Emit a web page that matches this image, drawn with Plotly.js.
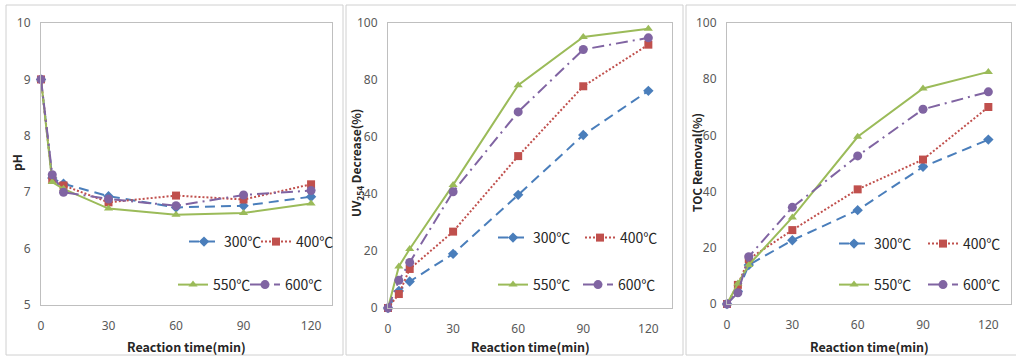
<!DOCTYPE html>
<html>
<head>
<meta charset="utf-8">
<script src="https://cdn.plot.ly/plotly-3.0.1.min.js"></script>
<style>html,body{margin:0;padding:0;background:#fff;}#chart{width:1016px;height:357px;}</style>
</head>
<body>
<div id="chart"></div>
<script>
// ---- data ----
const reactionTime = [0, 5, 10, 30, 60, 90, 120];
const seriesNames = ['300℃', '400℃', '550℃', '600℃'];

const pH_300 = [9.0, 7.25, 7.15, 6.93, 6.73, 6.76, 6.92];
const pH_400 = [9.0, 7.22, 7.12, 6.82, 6.94, 6.87, 7.14];
const pH_550 = [9.0, 7.18, 7.06, 6.71, 6.60, 6.63, 6.80];
const pH_600 = [9.0, 7.31, 7.00, 6.88, 6.76, 6.95, 7.03];

const uv_300 = [0, 6.0, 9.3, 19.0, 39.7, 60.7, 76.2];
const uv_400 = [0, 4.9, 13.7, 26.8, 53.3, 77.8, 92.4];
const uv_550 = [0, 14.6, 20.7, 43.2, 78.2, 95.1, 98.0];
const uv_600 = [0, 9.7, 16.0, 40.8, 68.8, 90.7, 94.8];

const toc_300 = [0, 4.5, 13.9, 22.7, 33.4, 48.8, 58.5];
const toc_400 = [0, 6.8, 16.0, 26.3, 40.8, 51.4, 70.1];
const toc_550 = [0, 7.3, 13.9, 30.8, 59.5, 76.7, 82.6];
const toc_600 = [0, 4.0, 16.8, 34.4, 52.7, 69.3, 75.5];

const yTitles = ['pH', 'UV<sub>254</sub> Decrease(%)', 'TOC Removal(%)'];
const xTitle = 'Reaction time(min)';

// ---- styling ----
const W = 1016, H = 357;
const styles = [
  {color: '#4a7ebb', dash: '10px,6px', symbol: 'diamond', size: 8},
  {color: '#c0504d', dash: '2px,2px', symbol: 'square', size: 8},
  {color: '#9bbb59', dash: 'solid', symbol: 'triangle-up', size: 8},
  {color: '#8064a2', dash: '12px,5px,2px,5px', symbol: 'circle', size: 9}
];
const panelData = [
  [pH_300, pH_400, pH_550, pH_600],
  [uv_300, uv_400, uv_550, uv_600],
  [toc_300, toc_400, toc_550, toc_600]
];
// plot area in pixels
const boxes = [
  {l: 41, r: 332, t: 23, b: 305, xmax: 129.3, yr: [5, 10], dtick: 1},
  {l: 388, r: 672, t: 23, b: 308, xmax: 130.9, yr: [0, 100], dtick: 20},
  {l: 727, r: 1011, t: 23, b: 304, xmax: 130.4, yr: [0, 100], dtick: 20}
];
// legend entry positions (px): [x, y] for each series per panel
const legendPos = [
  [[184, 242], [256, 242], [173, 285], [245, 285]],
  [[493, 238], [580, 238], [493, 285], [578, 285]],
  [[834, 244], [923, 244], [834, 285], [923, 285]]
];

const traces = [];
const layout = {
  width: W, height: H,
  margin: {l: 0, r: 0, t: 0, b: 0},
  showlegend: true,
  paper_bgcolor: '#fff', plot_bgcolor: '#fff',
  font: {family: 'Noto Sans', color: '#595959'},
  annotations: [], shapes: []
};
const px = v => v / W;
const py = v => 1 - v / H;
const frames = [[6, 343], [346, 683], [686, 1020]];

boxes.forEach((bx, p) => {
  const xa = 'xaxis' + (p ? p + 1 : ''), ya = 'yaxis' + (p ? p + 1 : '');
  const xr = 'x' + (p ? p + 1 : ''), yr = 'y' + (p ? p + 1 : '');
  layout[xa] = {
    domain: [px(bx.l), px(bx.r)], anchor: yr, range: [0, bx.xmax],
    tickvals: [0, 30, 60, 90, 120], showgrid: false, zeroline: false,
    showline: true, mirror: true, linecolor: '#bfbfbf', linewidth: 1,
    ticks: '', ticklabelstandoff: 10,
    tickfont: {size: 12, color: '#595959', family: 'Noto Sans'}
  };
  layout[ya] = {
    domain: [py(bx.b), py(bx.t)], anchor: xr, range: bx.yr, dtick: bx.dtick,
    showgrid: false, zeroline: false,
    showline: true, mirror: true, linecolor: '#bfbfbf', linewidth: 1,
    ticks: '', ticklabelstandoff: 7,
    tickfont: {size: 12, color: '#595959', family: 'Noto Sans'}
  };
  // outer panel frame
  layout.shapes.push({type: 'rect', xref: 'paper', yref: 'paper',
    x0: px(frames[p][0]), x1: px(frames[p][1]), y0: py(355), y1: py(5),
    line: {color: '#d0d0d0', width: 1}, layer: 'below'});
  // titles
  layout.annotations.push({text: xTitle, xref: 'paper', yref: 'paper',
    x: px((bx.l + bx.r) / 2), y: py(346), showarrow: false, xanchor: 'center', yanchor: 'middle',
    font: {family: 'Noto Sans CJK KR', size: 12.5, color: '#262626', weight: 'bold'}});
  layout.annotations.push({text: yTitles[p], xref: 'paper', yref: 'paper',
    x: px(frames[p][0] + 11), y: py(163), showarrow: false, textangle: -90,
    xanchor: 'center', yanchor: 'middle',
    font: {family: 'Noto Sans CJK KR', size: 12, color: '#262626', weight: 'bold'}});

  panelData[p].forEach((vals, s) => {
    const st = styles[s];
    const idx = p * 4 + s + 1;
    const key = idx === 1 ? 'legend' : 'legend' + idx;
    const pos = legendPos[p][s];
    layout[key] = {
      visible: true,
      x: px(pos[0]), y: py(pos[1]), xanchor: 'left', yanchor: 'middle',
      orientation: 'h', bgcolor: 'rgba(0,0,0,0)', borderwidth: 0,
      font: {family: 'Noto Sans CJK KR', size: 14, color: '#262626'}
    };
    traces.push({
      type: 'scatter', mode: 'lines+markers', x: reactionTime, y: vals,
      xaxis: xr, yaxis: yr, name: seriesNames[s], cliponaxis: false,
      legend: key, showlegend: true,
      line: {color: st.color, width: 2, dash: st.dash},
      marker: {color: st.color, symbol: st.symbol, size: st.size}
    });
  });
});

Plotly.newPlot('chart', traces, layout, {displayModeBar: false, staticPlot: true});
</script>
</body>
</html>
